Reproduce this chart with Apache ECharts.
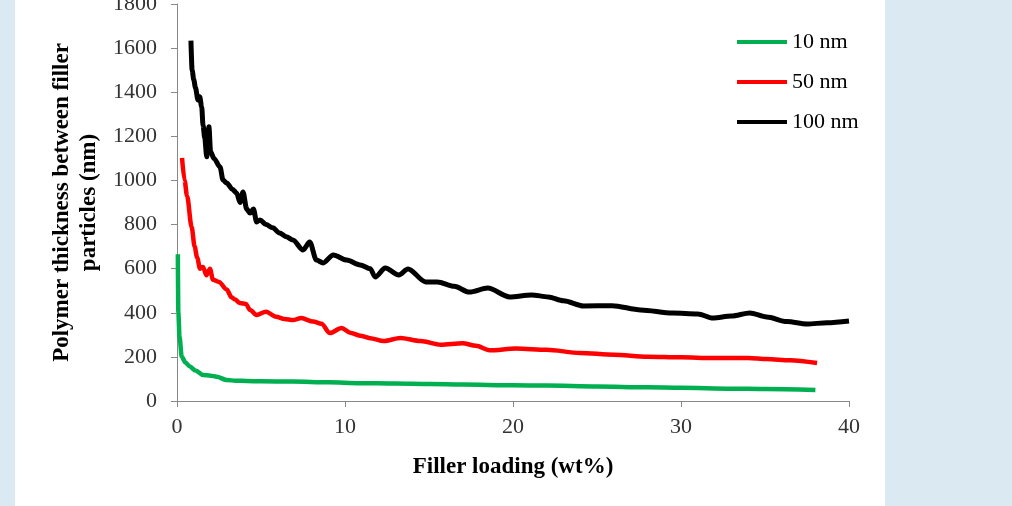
<!DOCTYPE html>
<html>
<head>
<meta charset="utf-8">
<script src="https://cdn.jsdelivr.net/npm/echarts@6/dist/echarts.min.js"></script>
<style>
html,body{margin:0;padding:0;background:#dbeaf2;}
#c{width:1012px;height:506px;}
</style>
</head>
<body>
<div id="c"></div>
<script>
const seriesNames = ['10 nm', '50 nm', '100 nm'];
const xTicks = [0, 10, 20, 30, 40];
const yTicks = [0, 200, 400, 600, 800, 1000, 1200, 1400, 1600, 1800];

const x10 = [0.05, 0.08, 0.15, 0.28, 0.5, 0.77, 1.1, 1.55, 2.0, 2.36, 2.96, 3.5, 4.15, 5, 6.9, 9, 10.9, 13, 15, 17, 20, 22, 25, 28, 30, 33, 35, 38];
const y10 = [665, 400, 292, 201, 175, 156, 138, 118, 115, 110, 95, 92, 91, 89, 88, 85, 81, 79, 77, 75, 71, 70, 66, 62, 60, 56, 54, 50];

const x50 = [0.3, 0.45, 0.6, 0.87, 1.05, 1.2, 1.37, 1.55, 1.75, 1.96, 2.14, 2.5, 2.96, 3.25, 3.45, 3.75, 4.1, 4.35, 4.74, 5.3, 5.9, 6.4, 6.9, 7.4, 8.1, 8.6, 9.1, 9.8, 10.3, 10.9, 11.5, 12.3, 13.3, 14.5, 15.7, 17, 17.8, 18.6, 20.2, 22, 24, 26, 28, 30, 31.9, 34, 35.1, 36.5, 38.1];
const y50 = [1102, 1000, 930, 789, 700, 650, 600, 608, 570, 600, 550, 540, 505, 470, 460, 444, 440, 413, 390, 405, 382, 372, 367, 376, 360, 350, 308, 331, 310, 296, 285, 272, 286, 272, 255, 262, 250, 230, 238, 232, 218, 210, 201, 198, 195, 195, 190, 185, 172];

const x100 = [0.83, 0.9, 1.0, 1.1, 1.25, 1.35, 1.47, 1.55, 1.65, 1.77, 1.9, 2.0, 2.2, 2.56, 2.74, 2.96, 3.3, 3.55, 3.75, 3.93, 4.15, 4.35, 4.55, 4.74, 4.94, 5.3, 5.7, 6.1, 6.5, 6.9, 7.5, 7.9, 8.3, 8.7, 9.3, 10.1, 10.9, 11.5, 11.8, 12.4, 13.2, 13.75, 14.8, 15.5, 16.5, 17.4, 18.5, 19.8, 21.1, 22.1, 23, 24.2, 25.9, 27.6, 29.5, 31, 31.9, 33, 34.1, 35.1, 36.3, 37.5, 38.7, 40];
const y100 = [1634, 1500, 1456, 1420, 1365, 1380, 1333, 1250, 1193, 1107, 1243, 1130, 1100, 1061, 1002, 988, 960, 943, 900, 948, 870, 852, 870, 812, 821, 800, 785, 762, 745, 730, 685, 721, 639, 626, 662, 639, 617, 600, 562, 603, 571, 599, 540, 540, 520, 494, 512, 472, 481, 472, 455, 431, 432, 413, 399, 395, 376, 385, 399, 381, 360, 349, 355, 363];

const colors = ['#00b050', '#ff0000', '#000000'];
const FONT = "'Liberation Serif', 'Times New Roman', serif";

function pairs(xs, ys) { return xs.map((x, i) => [x, ys[i]]); }

const chart = echarts.init(document.getElementById('c'), null, {renderer: 'canvas'});
chart.setOption({
  animation: false,
  backgroundColor: '#dbeaf2',
  graphic: [{
    type: 'rect', z: -10, silent: true,
    shape: {x: 15, y: 0, width: 870, height: 506},
    style: {fill: '#ffffff'}
  }],
  grid: {left: 177, right: 163, top: 4, bottom: 105, containLabel: false, outerBoundsMode: 'none'},
  legend: {
    orient: 'vertical',
    left: 737, top: 31, padding: 0,
    icon: 'rect',
    itemWidth: 50, itemHeight: 4, itemGap: 18,
    textStyle: {fontFamily: FONT, fontSize: 22, lineHeight: 22, color: '#000'},
    data: seriesNames
  },
  xAxis: {
    type: 'value', min: xTicks[0], max: xTicks[xTicks.length - 1], interval: 10,
    name: 'Filler loading (wt%)', nameLocation: 'middle', nameGap: 55,
    nameTextStyle: {fontFamily: FONT, fontSize: 23, fontWeight: 'bold', color: '#000'},
    axisLine: {onZero: false, lineStyle: {color: '#888', width: 1}},
    axisTick: {show: true, length: 6, lineStyle: {color: '#888'}},
    axisLabel: {fontFamily: FONT, fontSize: 22, color: '#333', margin: 15, formatter: v => String(v)},
    splitLine: {show: false}
  },
  yAxis: {
    type: 'value', min: yTicks[0], max: yTicks[yTicks.length - 1], interval: 200,
    name: 'Polymer thickness between filler\nparticles (nm)', nameLocation: 'middle', nameGap: 72,
    nameTextStyle: {fontFamily: FONT, fontSize: 23, fontWeight: 'bold', color: '#000', lineHeight: 27},
    axisLine: {show: true, lineStyle: {color: '#888', width: 1}},
    axisTick: {show: true, length: 6, lineStyle: {color: '#888'}},
    axisLabel: {fontFamily: FONT, fontSize: 22, color: '#333', margin: 20, formatter: v => String(v)},
    splitLine: {show: false}
  },
  series: [
    {name: seriesNames[0], type: 'line', data: pairs(x10, y10), showSymbol: false, smooth: 0.3, smoothMonotone: 'x',
     lineStyle: {color: colors[0], width: 4.5, join: 'round'}, itemStyle: {color: colors[0]}},
    {name: seriesNames[1], type: 'line', data: pairs(x50, y50), showSymbol: false, smooth: 0.3, smoothMonotone: 'x',
     lineStyle: {color: colors[1], width: 4.5, join: 'round'}, itemStyle: {color: colors[1]}},
    {name: seriesNames[2], type: 'line', data: pairs(x100, y100), showSymbol: false, smooth: 0.3, smoothMonotone: 'x',
     lineStyle: {color: colors[2], width: 5, join: 'round'}, itemStyle: {color: colors[2]}}
  ]
});
</script>
</body>
</html>
